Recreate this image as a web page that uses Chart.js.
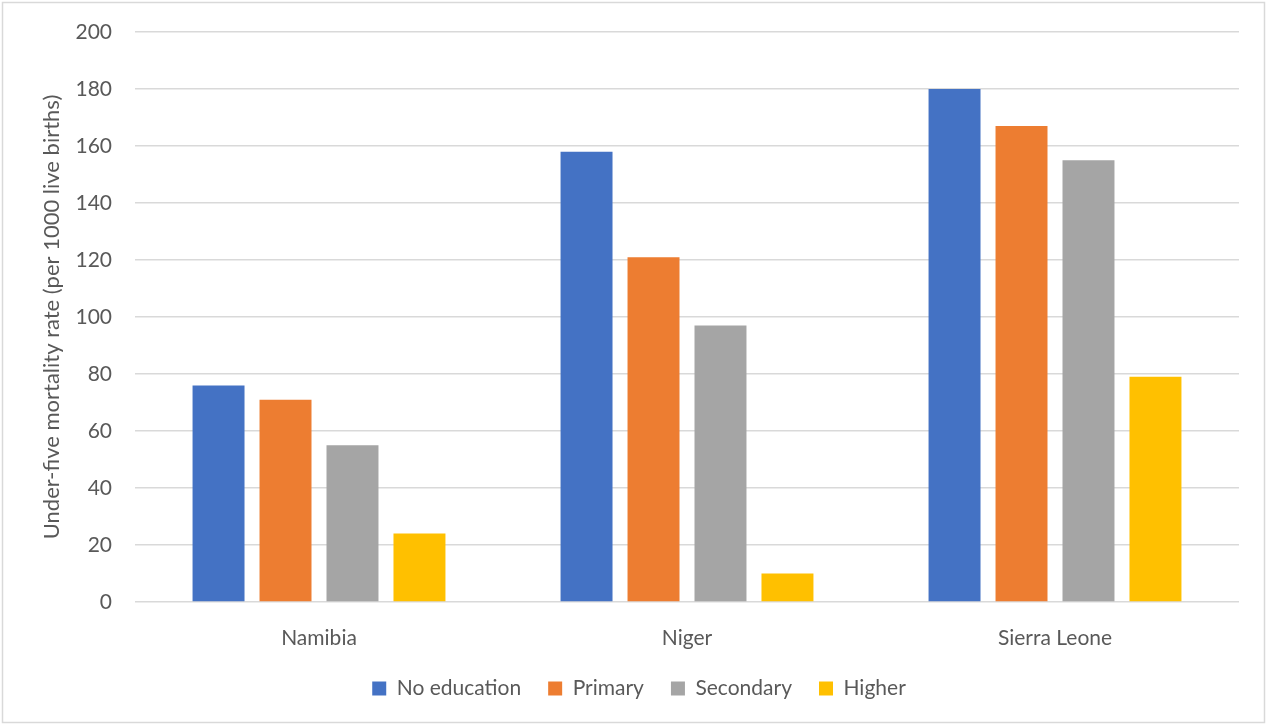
<!DOCTYPE html>
<html>
<head>
<meta charset="utf-8">
<title>Under-five mortality by mother's education</title>
<script src="https://cdn.jsdelivr.net/npm/chart.js@4/dist/chart.umd.min.js"></script>
<style>
  html, body { margin: 0; padding: 0; background: #fff; }
  .wrap { width: 1267px; height: 725px; position: relative; }
</style>
</head>
<body>
<div class="wrap">
  <canvas id="bar-chart"></canvas>
</div>

<script>
  const countries = ["Namibia", "Niger", "Sierra Leone"];
  const noEducation = [76, 158, 180];
  const primary = [71, 121, 167];
  const secondary = [55, 97, 155];
  const higher = [24, 10, 79];
  const yTicks = [0, 20, 40, 60, 80, 100, 120, 140, 160, 180, 200];

  const textColor = "#595959";
  const fontFamily = "Lato, 'Open Sans', sans-serif";

  // light frame round the whole chart
  const frame = {
    id: "frame",
    beforeDraw(chart) {
      const ctx = chart.ctx;
      ctx.save();
      ctx.fillStyle = "#fff";
      ctx.fillRect(0, 0, chart.width, chart.height);
      ctx.strokeStyle = "#d9d9d9";
      ctx.lineWidth = 1.5;
      ctx.strokeRect(2.5, 2.5, chart.width - 5, chart.height - 5);
      ctx.restore();
    }
  };

  const bar = (label, data, color) => ({
    label: label,
    data: data,
    backgroundColor: color,
    borderWidth: 0,
    categoryPercentage: 0.728,
    barPercentage: 0.776
  });

  new Chart(document.getElementById("bar-chart"), {
    type: "bar",
    data: {
      labels: countries,
      datasets: [
        bar("No education", noEducation, "#4472C4"),
        bar("Primary", primary, "#ED7D31"),
        bar("Secondary", secondary, "#A5A5A5"),
        bar("Higher", higher, "#FFC000")
      ]
    },
    options: {
      responsive: true,
      maintainAspectRatio: false,
      animation: false,
      layout: { padding: { top: 32, right: 28, bottom: 16, left: 39 } },
      plugins: {
        tooltip: { enabled: false },
        legend: {
          position: "bottom",
          labels: {
            boxWidth: 14,
            boxHeight: 14,
            padding: 27,
            color: textColor,
            font: { family: fontFamily, size: 21 }
          }
        }
      },
      scales: {
        x: {
          grid: { display: false, drawTicks: false },
          border: { display: false },
          ticks: { color: textColor, font: { family: fontFamily, size: 21 }, padding: 24 },
          afterFit(scale) { scale.height = 49; }
        },
        y: {
          min: 0,
          max: 200,
          afterBuildTicks(scale) { scale.ticks = yTicks.map(v => ({ value: v })); },
          grid: { color: "#d9d9d9", lineWidth: 1.5, drawTicks: false },
          border: { display: false },
          ticks: { color: textColor, font: { family: fontFamily, size: 21 }, padding: 23 },
          title: {
            display: true,
            text: "Under-five mortality rate (per 1000 live births)",
            color: textColor,
            font: { family: fontFamily, size: 22 },
            padding: 0
          },
          afterFit(scale) {
            scale.width = 96;
            // keep the label padding from pushing the plot area down
            scale.paddingTop = 10;
            scale.paddingBottom = 10;
          }
        }
      }
    },
    plugins: [frame]
  });
</script>
</body>
</html>
